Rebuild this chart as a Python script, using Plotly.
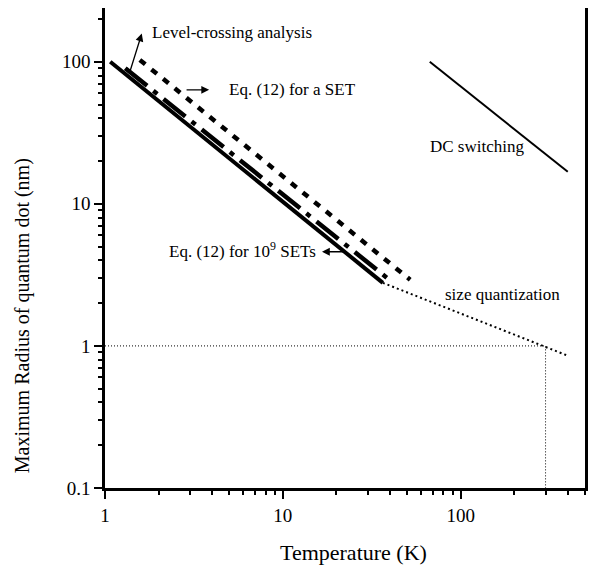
import math
import plotly.graph_objects as go

# ---- data ----
sets_T = [1.07, 36.5]          # Eq. (12) for 10^9 SETs (solid)
sets_R = [100, 2.78]
level_T = [1.3, 41]            # Level-crossing analysis (long dash-dot)
level_R = [90, 2.83]
set_T = [1.57, 52]             # Eq. (12) for a SET (dotted)
set_R = [103, 2.92]
sq_T = [36.5, 394]             # size quantization (thin dotted)
sq_R = [2.78, 0.86]
dc_T = [67, 400]               # DC switching
dc_R = [100, 16.8]
ref_T = [1, 300, 300]          # 1 nm at 300 K guide
ref_R = [1, 1, 0.1]

x_ticks = [1, 10, 100]
x_ticktext = ["1", "10", "100"]
y_ticks = [0.1, 1, 10, 100]
y_ticktext = ["0.1", "1", "10", "100"]
x_title = "Temperature (K)"
y_title = "Maximum Radius of quantum dot (nm)"

FONT = "Liberation Serif, Times New Roman, serif"
L = math.log10

fig = go.Figure()
fig.add_trace(go.Scatter(x=ref_T, y=ref_R, mode="lines",
                         line=dict(color="black", width=1, dash="1px,2px")))
fig.add_trace(go.Scatter(x=sq_T, y=sq_R, mode="lines",
                         line=dict(color="black", width=2, dash="2px,3px")))
fig.add_trace(go.Scatter(x=dc_T, y=dc_R, mode="lines",
                         line=dict(color="black", width=2)))
fig.add_trace(go.Scatter(x=sets_T, y=sets_R, mode="lines",
                         line=dict(color="black", width=4)))
fig.add_trace(go.Scatter(x=level_T, y=level_R, mode="lines",
                         line=dict(color="black", width=4.5, dash="28px,8px,5px,8px")))
fig.add_trace(go.Scatter(x=set_T, y=set_R, mode="lines",
                         line=dict(color="black", width=4.5, dash="7px,8px")))

ann = []
def text(t, x, y, anchor="left"):
    ann.append(dict(x=L(x), y=L(y), xref="x", yref="y", text=t, showarrow=False,
                    xanchor=anchor, yanchor="middle",
                    font=dict(family=FONT, size=17, color="black")))

def arrow(x0, y0, x1, y1):
    ann.append(dict(x=L(x1), y=L(y1), ax=L(x0), ay=L(y0), xref="x", yref="y",
                    axref="x", ayref="y", text="", showarrow=True,
                    arrowhead=2, arrowsize=1.2, arrowwidth=1.3, arrowcolor="black"))

text("Level-crossing analysis", 1.79, 160)
arrow(1.38, 85, 1.61, 158)
text("Eq. (12) for a SET", 4.85, 63.5)
arrow(2.82, 63.5, 3.85, 63.5)
text("Eq. (12) for 10<sup>9</sup> SETs", 15.7, 4.74, anchor="right")
arrow(22.3, 4.6, 16.6, 4.6)
text("DC switching", 65.3, 25.2)
text("size quantization", 79.2, 2.29)

# axis titles
ann.append(dict(x=0.517, y=-0.135, xref="paper", yref="paper", text=x_title,
                showarrow=False, xanchor="center", yanchor="middle",
                font=dict(family=FONT, size=22, color="black")))
ann.append(dict(x=-0.173, y=0.36, xref="paper", yref="paper", text=y_title,
                showarrow=False, xanchor="center", yanchor="middle", textangle=-90,
                font=dict(family=FONT, size=20, color="black")))

# the page body has an 8px margin, so the figure is sized to fit inside it
fig.update_layout(
    width=588, height=567,
    margin=dict(l=97, r=11, t=0, b=87, autoexpand=False),
    paper_bgcolor="white", plot_bgcolor="white",
    showlegend=False,
    font=dict(family=FONT, size=19, color="black"),
    annotations=ann,
)
fig.update_xaxes(
    type="log", range=[0, L(500)], automargin=False,
    tickvals=x_ticks, ticktext=x_ticktext,
    ticks="outside", ticklen=8, tickwidth=2, tickcolor="black",
    minor=dict(ticks="outside", ticklen=4, tickwidth=2, tickcolor="black", dtick="D1", showgrid=False),
    showline=True, linewidth=2.5, linecolor="black", mirror=True,
    showgrid=False, zeroline=False,
    tickfont=dict(family=FONT, size=19),
)
fig.update_yaxes(
    type="log", range=[-1, L(239)], automargin=False,
    tickvals=y_ticks, ticktext=y_ticktext,
    ticks="outside", ticklen=8, tickwidth=2, tickcolor="black",
    minor=dict(ticks="outside", ticklen=4, tickwidth=2, tickcolor="black", dtick="D1", showgrid=False),
    showline=True, linewidth=2.5, linecolor="black", mirror=True,
    showgrid=False, zeroline=False,
    tickfont=dict(family=FONT, size=19),
)
fig.write_html("out.html")
